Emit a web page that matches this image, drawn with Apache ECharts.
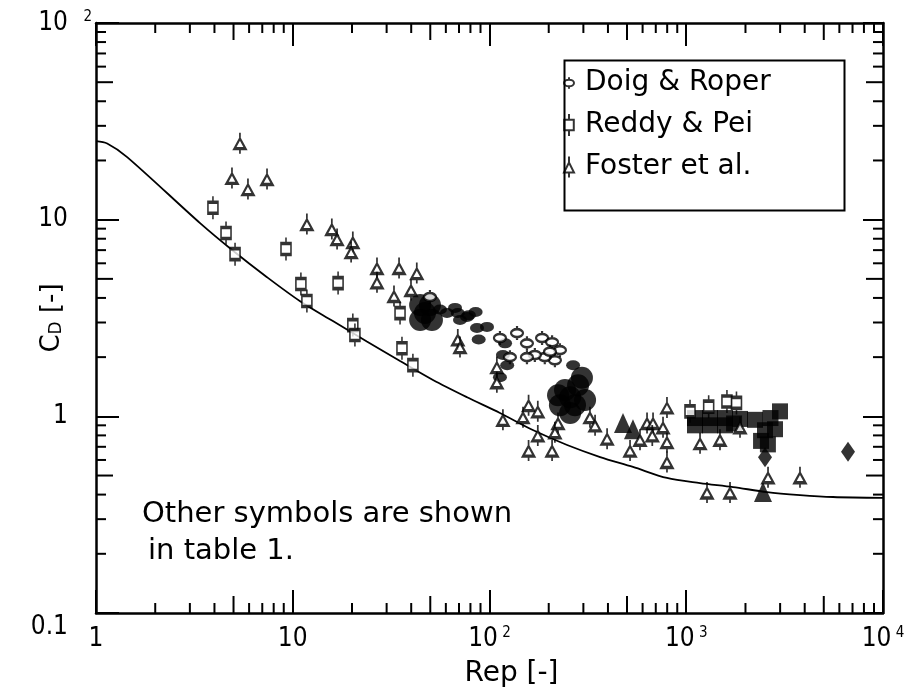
<!DOCTYPE html>
<html>
<head>
<meta charset="utf-8">
<script src="https://cdn.jsdelivr.net/npm/echarts@6/dist/echarts.min.js"></script>
<style>
html, body { margin: 0; padding: 0; background: #fff; }
#chart { width: 911px; height: 692px; }
</style>
</head>
<body>
<div id="chart"></div>
<script>
// legend entries
var seriesNames = ['Doig & Roper', 'Reddy & Pei', 'Foster et al.'];

// [Rep, CD]
var doigRoper = [[49.8, 4.04], [113, 2.50], [138, 2.65], [155, 2.35], [185, 2.50], [208, 2.38], [228, 2.17],
    [215, 1.93], [191, 2.00], [170, 2.05], [203, 2.13], [127, 2.00], [155, 2.00]];
var reddyPei = [[3.93, 11.5], [4.58, 8.55], [5.09, 6.68], [9.24, 7.09], [11.0, 4.71], [11.8, 3.86], [17.0, 4.76],
    [20.2, 2.91], [20.7, 2.59], [35.1, 3.35], [35.9, 2.22], [40.8, 1.82],
    [1045, 1.06], [1300, 1.12], [1610, 1.19], [1800, 1.17]];
var fosterEtAl = [[5.39, 24.5], [4.91, 16.3], [5.92, 14.3], [7.40, 16.1],
    [11.8, 9.5], [15.8, 8.96], [16.8, 7.97], [20.2, 7.69], [19.8, 6.84],
    [26.8, 5.68], [26.8, 4.80], [34.7, 5.68], [42.7, 5.35], [39.9, 4.39], [32.7, 4.09],
    [69.0, 2.46], [70.8, 2.25], [109, 1.78], [109, 1.49], [117, 0.96],
    [158, 1.14], [176, 1.06], [148, 0.99], [176, 0.80], [158, 0.67], [208, 0.67],
    [223, 0.925], [215, 0.83], [324, 0.99], [344, 0.90], [396, 0.77],
    [518, 0.67], [582, 0.76], [798, 1.11], [798, 0.74], [798, 0.586],
    [632, 0.925], [678, 0.925], [762, 0.88], [672, 0.80],
    [1175, 0.73], [1484, 0.76], [1876, 0.88], [1275, 0.41], [1669, 0.41], [2604, 0.49], [3785, 0.49]];

// other (filled) symbols from table 1
var otherBlobs = [[44.4, 3.68], [49.8, 3.68], [44.4, 3.09], [51.0, 3.09], [47.0, 3.35],
    [228, 1.14], [272, 1.14], [306, 1.21], [242, 1.36], [282, 1.44], [295, 1.57], [223, 1.28], [257, 1.04], [257, 1.25]];
var otherDots = [[56.0, 3.49], [60.8, 3.35], [66.8, 3.56], [69.0, 3.35], [76.9, 3.2], [78.5, 3.27], [85.0, 3.39],
    [70.8, 3.09], [86.4, 2.81], [97.1, 2.85], [88.1, 2.46], [120, 2.35], [117, 2.05], [123, 1.82], [113, 1.58], [266, 1.82]];
var otherTriangles = [[477, 0.925], [536, 0.86], [2455, 0.412]];
var otherSquares = [[1108, 0.98], [1320, 0.98], [1574, 0.98], [1876, 0.97], [1108, 0.9], [1320, 0.9], [1574, 0.9], [1750, 0.92],
    [2236, 0.96], [2680, 0.98], [2996, 1.06], [2514, 0.85], [2825, 0.86], [2400, 0.75], [2600, 0.72]];
var otherDiamonds = [[2514, 0.62], [6640, 0.66]];

// standard drag curve
var dragCurve = [[1, 25.1], [1.14, 24.4], [1.44, 20.8], [3.38, 9.6], [4.97, 6.95], [7.40, 5.1],
    [10.9, 3.85], [16.0, 3.05], [23.8, 2.40], [35.1, 1.91], [51.6, 1.53], [76.9, 1.25], [113, 1.04],
    [166, 0.852], [248, 0.715], [365, 0.621], [536, 0.553], [798, 0.486], [1175, 0.458], [1729, 0.437],
    [2570, 0.412], [3785, 0.398], [5570, 0.389], [10000, 0.385]];

var xDecades = [1, 10, 100, 1000];
var yDecades = [0.1, 1, 10];
var mantissas = [2, 3, 4, 5, 6, 7, 8, 9];
var X_MIN = 1, X_MAX = 10000, Y_MIN = 0.1, Y_MAX = 100;

var FONT = 'DejaVu Sans';
var NUM_FONT = "'DejaVu Sans Condensed', 'Liberation Sans Narrow', 'DejaVu Sans'";

var FOSTER_SYM = 'path://M5,0 L5,6 M5,16 L5,21 M0,16 L5,6 L10,16 Z';
var REDDY_SYM = 'path://M5,0 L5,6 M5,17 L5,23 M0,6 L10,6 L10,17 L0,17 Z';
var DOIG_SYM = 'path://M6,0 L6,3 M6,11 L6,14 M0,7 A6,4 0 1 1 12,7 A6,4 0 1 1 0,7 Z';

function minorTicks(decades) {
    var out = [];
    decades.forEach(function (d) {
        mantissas.forEach(function (m) { out.push(+(d * m).toPrecision(3)); });
    });
    return out;
}
var xMinor = minorTicks(xDecades).map(function (v) { return [v, Y_MIN]; });
var yMinor = minorTicks(yDecades).map(function (v) { return [X_MIN, v]; });

function tickLen(i) { return mantissas[i % 8] === 5 ? 17 : 10; }

function tickLine(x1, y1, x2, y2) {
    return { type: 'line', shape: { x1: x1, y1: y1, x2: x2, y2: y2 }, style: { stroke: '#000', lineWidth: 2 } };
}
function renderXTick(params, api) {
    var v = api.value(0);
    var b = api.coord([v, Y_MIN]), t = api.coord([v, Y_MAX]);
    var len = tickLen(params.dataIndex);
    return { type: 'group', children: [tickLine(b[0], b[1], b[0], b[1] - len), tickLine(t[0], t[1], t[0], t[1] + len)] };
}
function renderYTick(params, api) {
    var v = api.value(1);
    var l = api.coord([X_MIN, v]), r = api.coord([X_MAX, v]);
    var len = tickLen(params.dataIndex);
    return { type: 'group', children: [tickLine(l[0], l[1], l[0] + len, l[1]), tickLine(r[0], r[1], r[0] - len, r[1])] };
}

function xLabel(v) {
    if (v < 5) return '{b|1}';
    if (v < 50) return '{b|10}';
    return '{b|10}{s| ' + Math.round(Math.log10(v)) + '}';
}
function yLabel(v) {
    if (v > 50) return '{b|10}{s|2}';
    if (v > 5) return '{b|10}{e| }';
    if (v > 0.5) return '{b|1}{e| }';
    return '{low|0.1}{e| }';
}

var openStyle = { color: '#fff', borderColor: '#000', borderWidth: 2.4 };
var frameLine = { show: true, lineStyle: { color: '#000', width: 2.5 } };

var myChart = echarts.init(document.getElementById('chart'));
var option = {
    animation: false,
    backgroundColor: '#fff',
    grid: { left: 96, right: 28, top: 23, bottom: 79, containLabel: false, outerBoundsMode: 'none' },
    legend: {
        data: seriesNames,
        orient: 'vertical',
        left: 563,
        top: 68,
        padding: 0,
        itemGap: 12,
        itemWidth: 10,
        itemHeight: 22,
        textStyle: { fontFamily: FONT, fontSize: 28, color: '#000', lineHeight: 30, padding: [0, 0, 0, 6] }
    },
    graphic: [
        { type: 'rect', left: 562, top: 58, shape: { width: 280, height: 150 }, style: { fill: 'none', stroke: '#000', lineWidth: 2 }, z: 10 },
        { type: 'text', style: { x: 142, y: 514, text: 'Other symbols are shown', font: '29px ' + FONT, fill: '#000', verticalAlign: 'middle' } },
        { type: 'text', style: { x: 148, y: 551, text: 'in table 1.', font: '29px ' + FONT, fill: '#000', verticalAlign: 'middle' } }
    ],
    xAxis: [{
        type: 'log', logBase: 10, min: X_MIN, max: X_MAX,
        name: 'Rep [-]', nameLocation: 'middle', nameGap: 47, nameMoveOverlap: false,
        nameTextStyle: { fontFamily: FONT, fontSize: 28, color: '#000', padding: [0, 0, 0, 44] },
        axisLine: frameLine,
        axisTick: { inside: true, length: 23, lineStyle: { color: '#000', width: 2 } },
        axisLabel: {
            margin: 13, formatter: xLabel,
            rich: {
                b: { fontFamily: NUM_FONT, fontSize: 26, color: '#000', lineHeight: 26 },
                s: { fontFamily: NUM_FONT, fontSize: 15, color: '#000', verticalAlign: 'top', lineHeight: 15 }
            }
        },
        splitLine: { show: false }
    }, {
        type: 'log', logBase: 10, min: X_MIN, max: X_MAX, position: 'top',
        axisLine: frameLine,
        axisTick: { inside: true, length: 23, lineStyle: { color: '#000', width: 2 } },
        axisLabel: { show: false },
        splitLine: { show: false }
    }],
    yAxis: [{
        type: 'log', logBase: 10, min: Y_MIN, max: Y_MAX,
        name: '{c|C}{d|D}{c| [-]}', nameLocation: 'middle', nameGap: 31, nameMoveOverlap: false,
        nameTextStyle: {
            rich: {
                c: { fontFamily: FONT, fontSize: 26, color: '#000' },
                d: { fontFamily: FONT, fontSize: 17, color: '#000', verticalAlign: 'bottom' }
            }
        },
        axisLine: frameLine,
        axisTick: { inside: true, length: 23, lineStyle: { color: '#000', width: 2 } },
        axisLabel: {
            margin: 4, formatter: yLabel,
            rich: {
                b: { fontFamily: NUM_FONT, fontSize: 26, color: '#000', lineHeight: 26 },
                s: { fontFamily: NUM_FONT, fontSize: 15, color: '#000', verticalAlign: 'top', lineHeight: 15, width: 24, align: 'right' },
                e: { fontSize: 14, width: 24 },
                low: { fontFamily: NUM_FONT, fontSize: 26, color: '#000', lineHeight: 26, padding: [28, 0, 0, 0] }
            }
        },
        splitLine: { show: false }
    }, {
        type: 'log', logBase: 10, min: Y_MIN, max: Y_MAX, position: 'right',
        axisLine: frameLine,
        axisTick: { inside: true, length: 20, lineStyle: { color: '#000', width: 2 } },
        axisLabel: { show: false },
        splitLine: { show: false }
    }],
    series: [
        { type: 'custom', data: xMinor, renderItem: renderXTick, silent: true, clip: false, z: 20 },
        { type: 'custom', data: yMinor, renderItem: renderYTick, silent: true, clip: false, z: 20 },
        {
            type: 'line', data: dragCurve, smooth: 0.3, showSymbol: false, silent: true,
            lineStyle: { color: '#000', width: 1.8 }, z: 1
        },
        { name: 'other', type: 'scatter', data: otherBlobs, symbol: 'circle', symbolSize: 22, itemStyle: { color: '#000' }, z: 2 },
        { name: 'other', type: 'scatter', data: otherDots, symbol: 'circle', symbolSize: [14, 10], itemStyle: { color: '#000' }, z: 2 },
        { name: 'other', type: 'scatter', data: otherTriangles, symbol: 'triangle', symbolSize: [18, 20], itemStyle: { color: '#000' }, z: 2 },
        { name: 'other', type: 'scatter', data: otherSquares, symbol: 'rect', symbolSize: 16, itemStyle: { color: '#000' }, z: 2 },
        { name: 'other', type: 'scatter', data: otherDiamonds, symbol: 'diamond', symbolSize: [14, 20], itemStyle: { color: '#000' }, z: 2 },
        { name: seriesNames[0], type: 'scatter', data: doigRoper, symbol: DOIG_SYM, symbolSize: [12, 14], itemStyle: openStyle, z: 5 },
        { name: seriesNames[1], type: 'scatter', data: reddyPei, symbol: REDDY_SYM, symbolSize: [10, 23], itemStyle: openStyle, z: 5 },
        { name: seriesNames[2], type: 'scatter', data: fosterEtAl, symbol: FOSTER_SYM, symbolSize: [11, 21], itemStyle: openStyle, z: 5 }
    ]
};
myChart.setOption(option);
</script>
</body>
</html>
